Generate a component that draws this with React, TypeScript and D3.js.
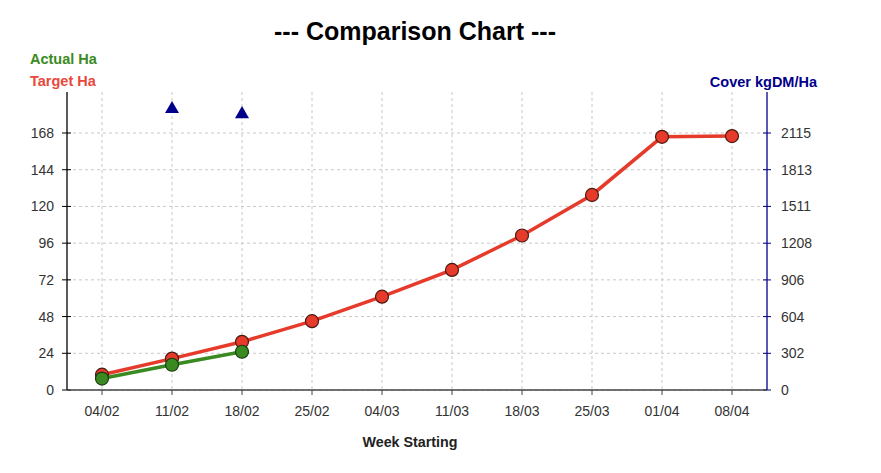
import React from "react";
import * as d3 from "d3";

const weeks = ["04/02", "11/02", "18/02", "25/02", "04/03", "11/03", "18/03", "25/03", "01/04", "08/04"];
const targetHa = [10, 20.5, 31.5, 45, 61, 78.5, 101, 127.5, 165.5, 166];
const actualHa = [7.5, 16.5, 25];
const coverWeeks = ["11/02", "18/02"];
const coverValues = [2312, 2270];
const leftTicks = [0, 24, 48, 72, 96, 120, 144, 168];
const rightTicks = [0, 302, 604, 906, 1208, 1511, 1813, 2115];

const W = 881, H = 473;
const left = 67, right = 767, top = 92, bottom = 390;
const font = "Arial, 'Liberation Sans', sans-serif";

export default function App() {
  const x = d3.scaleBand<string>().domain(weeks).range([left, right]);
  const cx = (w: string) => (x(w) ?? 0) + x.bandwidth() / 2;
  const yL = d3.scaleLinear().domain([0, 168]).range([bottom, 133]);
  const leftMax = yL.invert(top);
  const yR = d3.scaleLinear().domain([0, (leftMax * 2115) / 168]).range([bottom, top]);

  const line = d3.line<[number, number]>().x(d => d[0]).y(d => d[1]);
  const tPts: [number, number][] = targetHa.map((v, i) => [cx(weeks[i]), yL(v)]);
  const aPts: [number, number][] = actualHa.map((v, i) => [cx(weeks[i]), yL(v)]);

  const red = "#e63a2b";
  const green = "#3a8a22";
  const navy = "#00008b";
  const grid = "#c8c8c8";

  return (
    <svg width={W} height={H} style={{ position: "absolute", left: 0, top: 0, background: "#fff" }}>
      <text x={415} y={40} textAnchor="middle" fontFamily={font} fontWeight="bold" fontSize={25} fill="#000">--- Comparison Chart ---</text>

      {/* grid */}
      {leftTicks.map(t => (
        <line key={"h" + t} x1={left} x2={right} y1={yL(t)} y2={yL(t)} stroke={grid} strokeDasharray="3,3" />
      ))}
      {weeks.map(w => (
        <line key={"v" + w} x1={cx(w)} x2={cx(w)} y1={top} y2={bottom} stroke={grid} strokeDasharray="3,3" />
      ))}

      {/* left axis */}
      <line x1={left} x2={left} y1={top} y2={bottom} stroke="#000" strokeWidth={1.3} />
      {leftTicks.map(t => (
        <g key={"lt" + t}>
          <line x1={left - 5} x2={left + 4} y1={yL(t)} y2={yL(t)} stroke="#000" />
          <text x={54} y={yL(t) + 5} textAnchor="end" fontFamily={font} fontSize={14} fill="#333">{t}</text>
        </g>
      ))}

      {/* right axis */}
      <line x1={right} x2={right} y1={top} y2={bottom} stroke={navy} strokeWidth={1.3} />
      {rightTicks.map(t => (
        <g key={"rt" + t}>
          <line x1={right - 4} x2={right + 4} y1={yR(t)} y2={yR(t)} stroke={navy} />
          <text x={781} y={yR(t) + 5} textAnchor="start" fontFamily={font} fontSize={14} fill="#333">{t}</text>
        </g>
      ))}

      {/* bottom axis */}
      <line x1={left} x2={right} y1={bottom} y2={bottom} stroke="#444" strokeWidth={1.3} />
      {weeks.map(w => (
        <g key={"xt" + w}>
          <line x1={cx(w)} x2={cx(w)} y1={bottom} y2={bottom + 5} stroke="#444" />
          <text x={cx(w)} y={416} textAnchor="middle" fontFamily={font} fontSize={14} fill="#333">{w}</text>
        </g>
      ))}
      <text x={410} y={447} textAnchor="middle" fontFamily={font} fontWeight="bold" fontSize={14.3} fill="#222">Week Starting</text>

      {/* legends */}
      <text x={30} y={64} fontFamily={font} fontWeight="bold" fontSize={14.5} fill={green}>Actual Ha</text>
      <text x={30} y={86} fontFamily={font} fontWeight="bold" fontSize={14.5} fill="#e8483c">Target Ha</text>
      <text x={817} y={87} textAnchor="end" fontFamily={font} fontWeight="bold" fontSize={14.5} fill={navy}>Cover kgDM/Ha</text>

      {/* target */}
      <path d={line(tPts) ?? ""} fill="none" stroke={red} strokeWidth={3.5} />
      {tPts.map((p, i) => (
        <circle key={"t" + i} cx={p[0]} cy={p[1]} r={6.5} fill={red} stroke="#4a1a10" strokeWidth={1.2} />
      ))}

      {/* actual */}
      <path d={line(aPts) ?? ""} fill="none" stroke={green} strokeWidth={3.5} />
      {aPts.map((p, i) => (
        <circle key={"a" + i} cx={p[0]} cy={p[1]} r={6.5} fill={green} stroke="#1a3a10" strokeWidth={1.2} />
      ))}

      {/* cover */}
      {coverValues.map((v, i) => {
        const px = cx(coverWeeks[i]);
        const py = yR(v);
        const s = d3.symbol().type(d3.symbolTriangle).size(85)();
        return <path key={"c" + i} d={s ?? ""} transform={`translate(${px},${py})`} fill={navy} />;
      })}
    </svg>
  );
}
